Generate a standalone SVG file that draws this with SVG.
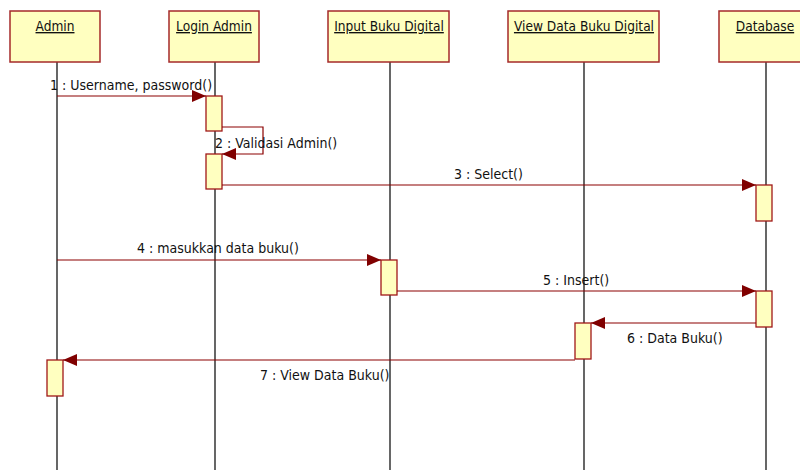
<svg xmlns="http://www.w3.org/2000/svg" width="800" height="470" viewBox="0 0 800 470">
  <defs>
    <marker id="arrow" viewBox="0 0 14 12" refX="14" refY="6" markerWidth="14" markerHeight="12" markerUnits="userSpaceOnUse" orient="auto">
      <path d="M0,0 L14,6 L0,12 Z" fill="#800000"/>
    </marker>
  </defs>
  <style>
    .obj { fill: #ffffc0; stroke: #a52a2a; stroke-width: 1.5; }
    .act { fill: #ffffc0; stroke: #a01818; stroke-width: 1.3; }
    .life { stroke: #000; stroke-width: 1.2; }
    .msg { stroke: #8b0000; stroke-width: 1.2; fill: none; marker-end: url(#arrow); }
    .title { font-family: "DejaVu Sans Condensed", "DejaVu Sans", sans-serif; font-size: 13.6px; fill: #111; text-decoration: underline; text-anchor: middle; }
    .lbl { font-family: "DejaVu Sans Condensed", "DejaVu Sans", sans-serif; font-size: 14px; fill: #111; }
  </style>
  <rect width="800" height="470" fill="#fff"/>

  <!-- lifelines -->
  <g id="lifelines">
    <line class="life" x1="57" y1="62" x2="57" y2="470"/>
    <line class="life" x1="215" y1="62" x2="215" y2="470"/>
    <line class="life" x1="390" y1="62" x2="390" y2="470"/>
    <line class="life" x1="584" y1="62" x2="584" y2="470"/>
    <line class="life" x1="766" y1="62" x2="766" y2="470"/>
  </g>

  <g id="admin">
    <rect class="obj" x="10" y="11" width="90" height="51"/>
    <text class="title" x="55" y="31">Admin</text>
    <rect class="act" x="47" y="360" width="16" height="36"/>
  </g>
  <g id="login-admin">
    <rect class="obj" x="169" y="11" width="90" height="51"/>
    <text class="title" x="214" y="31">Login Admin</text>
    <rect class="act" x="206" y="96" width="16" height="35"/>
    <rect class="act" x="206" y="154" width="16" height="35"/>
  </g>
  <g id="input-buku">
    <rect class="obj" x="328" y="11" width="121" height="51"/>
    <text class="title" x="389" y="31">Input Buku Digital</text>
    <rect class="act" x="381" y="260" width="16" height="35"/>
  </g>
  <g id="view-data">
    <rect class="obj" x="508" y="11" width="151" height="51"/>
    <text class="title" x="584" y="31">View Data Buku Digital</text>
    <rect class="act" x="575" y="323" width="16" height="36"/>
  </g>
  <g id="database">
    <rect class="obj" x="719" y="11" width="95" height="51"/>
    <text class="title" x="765" y="31">Database</text>
    <rect class="act" x="756" y="185" width="16" height="36"/>
    <rect class="act" x="756" y="291" width="16" height="36"/>
  </g>

  <!-- messages -->
  <g id="connectors">
    <line class="msg" x1="57" y1="96" x2="206" y2="96"/>
    <path class="msg" d="M222,127 H263 V154 H222"/>
    <line class="msg" x1="222" y1="185" x2="756" y2="185"/>
    <line class="msg" x1="57" y1="260" x2="381" y2="260"/>
    <line class="msg" x1="397" y1="291" x2="756" y2="291"/>
    <line class="msg" x1="756" y1="323" x2="591" y2="323"/>
    <line class="msg" x1="575" y1="360" x2="63" y2="360"/>
  </g>

  <g id="labels">
    <text class="lbl" x="50" y="90">1 : Username, password()</text>
    <text class="lbl" x="215" y="148">2 : Validasi Admin()</text>
    <text class="lbl" x="454" y="179">3 : Select()</text>
    <text class="lbl" x="137" y="253">4 : masukkan data buku()</text>
    <text class="lbl" x="543" y="285">5 : Insert()</text>
    <text class="lbl" x="627" y="343">6 : Data Buku()</text>
    <text class="lbl" x="260" y="380">7 : View Data Buku()</text>
  </g>
</svg>
